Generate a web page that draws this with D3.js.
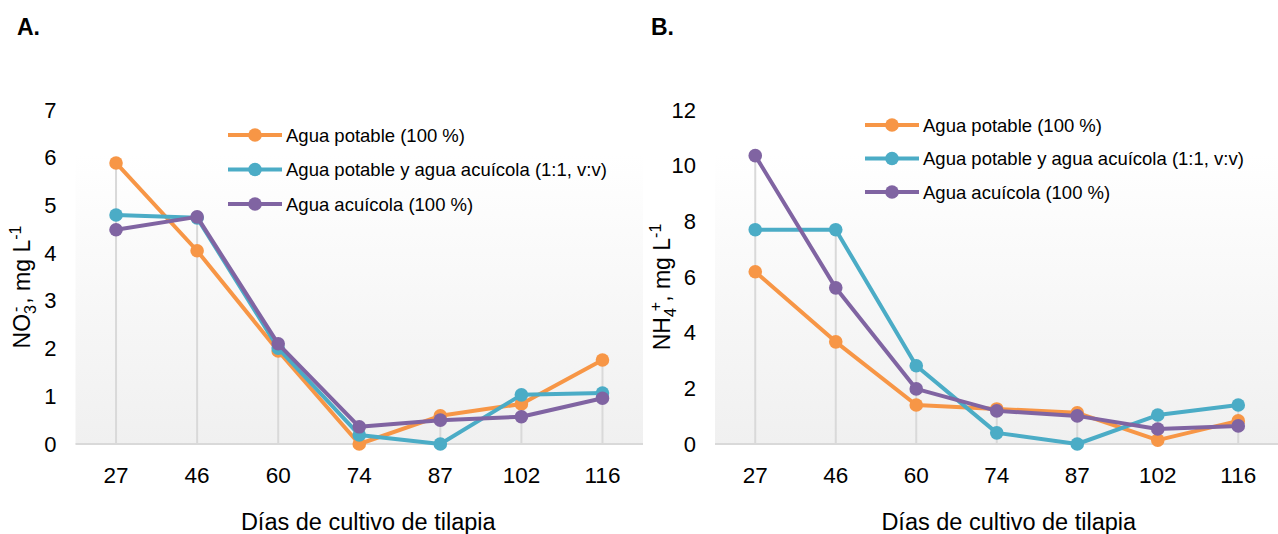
<!DOCTYPE html>
<html>
<head>
<meta charset="utf-8">
<script src="https://cdn.jsdelivr.net/npm/d3@7"></script>
<style>
  html, body { margin: 0; padding: 0; background: #fff; }
  svg { display: block; font-family: "Liberation Sans", Arial, sans-serif; }
</style>
</head>
<body>
<svg id="chart" width="1278" height="534"></svg>
<script>
// Sampling days (x categories)
const days = ["27", "46", "60", "74", "87", "102", "116"];

// Series names
const seriesNames = [
  "Agua potable (100 %)",
  "Agua potable y agua acuícola (1:1, v:v)",
  "Agua acuícola (100 %)"
];
const seriesColors = ["#f79646", "#4bacc6", "#8064a2"];

// Panel A: nitrate, mg/L
const no3Potable   = [5.89, 4.05, 1.95, 0.00, 0.59, 0.84, 1.76];
const no3Mezcla    = [4.80, 4.74, 2.01, 0.19, 0.00, 1.03, 1.07];
const no3Acuicola  = [4.49, 4.76, 2.10, 0.36, 0.50, 0.57, 0.96];
const no3Ticks     = [0, 1, 2, 3, 4, 5, 6, 7];

// Panel B: ammonium, mg/L
const nh4Potable   = [6.19, 3.67, 1.40, 1.26, 1.12, 0.14, 0.83];
const nh4Mezcla    = [7.70, 7.70, 2.81, 0.40, 0.00, 1.04, 1.40];
const nh4Acuicola  = [10.36, 5.61, 1.98, 1.19, 1.01, 0.54, 0.65];
const nh4Ticks     = [0, 2, 4, 6, 8, 10, 12];

const svg = d3.select("#chart");

// Plot area background gradient
const defs = svg.append("defs");
const grad = defs.append("linearGradient")
  .attr("id", "plotBg").attr("x1", 0).attr("y1", 0).attr("x2", 0).attr("y2", 1);
grad.append("stop").attr("offset", "0%").attr("stop-color", "#ffffff");
grad.append("stop").attr("offset", "100%").attr("stop-color", "#f0f0f0");

function drawPanel(cfg) {
  const g = svg.append("g");
  const x = d3.scaleBand().domain(days).range([cfg.left, cfg.right]);
  const y = d3.scaleLinear().domain([0, cfg.max]).range([444, 110]);
  const cx = d => x(d) + x.bandwidth() / 2;

  // panel letter
  g.append("text").attr("x", cfg.letterX).attr("y", 35)
    .attr("font-size", 23).attr("font-weight", "bold").attr("fill", "#000")
    .text(cfg.letter);

  // background
  g.append("rect")
    .attr("x", cfg.left).attr("y", 155)
    .attr("width", cfg.right - cfg.left).attr("height", 444 - 155)
    .attr("fill", "url(#plotBg)");

  // drop lines from highest value to the axis
  const series = cfg.series;
  days.forEach((d, i) => {
    const top = d3.max(series, s => s[i]);
    g.append("line")
      .attr("x1", cx(d)).attr("x2", cx(d))
      .attr("y1", y(top)).attr("y2", y(0))
      .attr("stroke", "#d9d9d9").attr("stroke-width", 2);
  });

  // horizontal axis line
  g.append("line")
    .attr("x1", cfg.left).attr("x2", cfg.right)
    .attr("y1", y(0)).attr("y2", y(0))
    .attr("stroke", "#d9d9d9").attr("stroke-width", 2);

  // y axis labels
  const yAxis = d3.axisLeft(y).tickValues(cfg.ticks).tickFormat(d3.format("d"))
    .tickSize(0).tickPadding(0);
  const ya = g.append("g").attr("transform", `translate(${cfg.left - 19},0)`).call(yAxis);
  ya.select(".domain").remove();
  ya.selectAll("text").attr("font-size", 22).attr("fill", "#000")
    .attr("font-family", "Liberation Sans, Arial, sans-serif");

  // x axis labels
  const xAxis = d3.axisBottom(x).tickSize(0).tickPadding(0);
  const xa = g.append("g").attr("transform", `translate(0,${y(0) + 23})`).call(xAxis);
  xa.select(".domain").remove();
  xa.selectAll("text").attr("font-size", 22.5).attr("fill", "#000")
    .attr("font-family", "Liberation Sans, Arial, sans-serif");

  // x axis title
  g.append("text")
    .attr("x", (cfg.left + cfg.right) / 2 + cfg.titleShift).attr("y", 530)
    .attr("text-anchor", "middle").attr("font-size", 23.5).attr("fill", "#000")
    .text("Días de cultivo de tilapia");

  // y axis title
  const yt = g.append("text")
    .attr("transform", `translate(${cfg.titleX},287) rotate(-90)`)
    .attr("text-anchor", "middle").attr("font-size", 23).attr("fill", "#000");
  cfg.yTitle.forEach(p => {
    const t = yt.append("tspan").text(p.t);
    if (p.size) t.attr("font-size", p.size);
    if (p.dy) t.attr("dy", p.dy);
    if (p.dx) t.attr("dx", p.dx);
  });

  // series lines and markers
  const line = d3.line().x((v, i) => cx(days[i])).y(v => y(v));
  series.forEach((s, k) => {
    g.append("path").datum(s)
      .attr("d", line).attr("fill", "none")
      .attr("stroke", seriesColors[k]).attr("stroke-width", 4)
      .attr("stroke-linejoin", "round");
    g.selectAll(null).data(s).enter().append("circle")
      .attr("cx", (v, i) => cx(days[i])).attr("cy", v => y(v))
      .attr("r", 6.8).attr("fill", seriesColors[k]);
  });

  // legend
  seriesNames.forEach((name, k) => {
    const ly = cfg.legY + k * cfg.legStep;
    g.append("line")
      .attr("x1", cfg.legX).attr("x2", cfg.legX + 54)
      .attr("y1", ly).attr("y2", ly)
      .attr("stroke", seriesColors[k]).attr("stroke-width", 4);
    g.append("circle").attr("cx", cfg.legX + 27).attr("cy", ly)
      .attr("r", 6.8).attr("fill", seriesColors[k]);
    g.append("text").attr("x", cfg.legX + 58).attr("y", ly + 6.5)
      .attr("font-size", 18.5).attr("fill", "#000").text(name);
  });
}

drawPanel({
  letter: "A.", letterX: 17,
  left: 75.5, right: 643,
  max: 7, ticks: no3Ticks,
  series: [no3Potable, no3Mezcla, no3Acuicola],
  titleX: 30, titleShift: 9,
  yTitle: [
    {t: "NO"}, {t: "3", size: 16, dy: 6}, {t: "-", size: 16, dy: -15, dx: -7},
    {t: ", mg L", dy: 9, dx: 3}, {t: "-1", size: 16, dy: -9}
  ],
  legX: 228, legY: 135, legStep: 34.5
});

drawPanel({
  letter: "B.", letterX: 651,
  left: 715, right: 1278.5,
  max: 12, ticks: nh4Ticks,
  series: [nh4Potable, nh4Mezcla, nh4Acuicola],
  titleX: 670, titleShift: 12,
  yTitle: [
    {t: "NH"}, {t: "4", size: 16, dy: 6}, {t: "+", size: 16, dy: -15, dx: -3},
    {t: ", mg L", dy: 9}, {t: "-1", size: 16, dy: -9}
  ],
  legX: 865, legY: 125, legStep: 33.5
});
</script>
</body>
</html>
